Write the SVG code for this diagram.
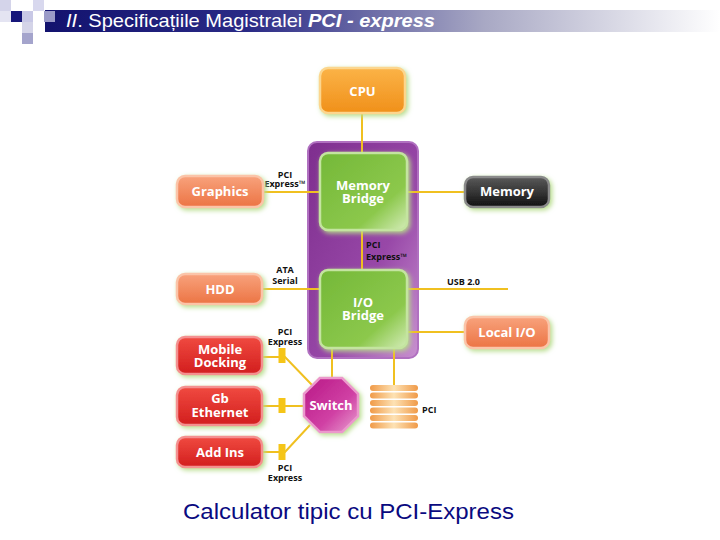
<svg xmlns="http://www.w3.org/2000/svg" width="720" height="540" viewBox="0 0 720 540">
<defs>
<linearGradient id="hdr" x1="0" y1="0" x2="1" y2="0">
<stop offset="0" stop-color="#12126e"/>
<stop offset="0.3" stop-color="#2a2a86"/>
<stop offset="0.65" stop-color="#a8a8c4"/>
<stop offset="1" stop-color="#ffffff"/>
</linearGradient>
<linearGradient id="gOrange" x1="0" y1="0" x2="0" y2="1"><stop offset="0" stop-color="#fbb347"/><stop offset="1" stop-color="#f0901a"/></linearGradient>
<linearGradient id="gSalmon" x1="0" y1="0" x2="0" y2="1"><stop offset="0" stop-color="#f8a27c"/><stop offset="1" stop-color="#ec7444"/></linearGradient>
<linearGradient id="gRed" x1="0" y1="0" x2="0" y2="1"><stop offset="0" stop-color="#f04a40"/><stop offset="1" stop-color="#d21e1e"/></linearGradient>
<linearGradient id="gDark" x1="0" y1="0" x2="0" y2="1"><stop offset="0" stop-color="#5a5a5a"/><stop offset="1" stop-color="#111111"/></linearGradient>
<linearGradient id="gGreen" x1="0" y1="0" x2="1" y2="1"><stop offset="0" stop-color="#74b838"/><stop offset="0.7" stop-color="#8cc84c"/><stop offset="1" stop-color="#d4ecb8"/></linearGradient>
<linearGradient id="gPurple" x1="0" y1="0" x2="1" y2="1"><stop offset="0" stop-color="#7e2e8e"/><stop offset="0.6" stop-color="#9848a8"/><stop offset="1" stop-color="#c890d0"/></linearGradient>
<linearGradient id="gMagenta" x1="0" y1="0" x2="1" y2="1"><stop offset="0" stop-color="#b81886"/><stop offset="0.6" stop-color="#d040a4"/><stop offset="1" stop-color="#e8a0d0"/></linearGradient>
<linearGradient id="gBar" x1="0" y1="0" x2="1" y2="0"><stop offset="0" stop-color="#f09a48"/><stop offset="0.5" stop-color="#fde2b4"/><stop offset="1" stop-color="#f09a48"/></linearGradient>
<filter id="glow" x="-20%" y="-20%" width="150%" height="150%">
<feGaussianBlur in="SourceAlpha" stdDeviation="2.5"/>
<feOffset dx="2" dy="2" result="b"/>
<feFlood flood-color="#b6dc8a"/>
<feComposite in2="b" operator="in"/>
<feMerge><feMergeNode/><feMergeNode in="SourceGraphic"/></feMerge>
</filter>
<style>
.box{stroke-width:2.5;filter:url(#glow)}
.t{font-family:"Open Sans","Noto Sans",sans-serif;font-weight:bold;fill:#ffffff;text-anchor:middle;font-size:13px}
.lbl{font-family:"Open Sans","Noto Sans",sans-serif;font-weight:bold;fill:#111111;font-size:9px}
.c{text-anchor:middle}
.ln{stroke:#f0c020;stroke-width:2;fill:none}
.plug{fill:#f5c518}
</style>
</defs>
<rect width="720" height="540" fill="#ffffff"/>
<g id="header">
<rect x="45" y="10" width="675" height="22" fill="url(#hdr)"/>
<rect x="0" y="0" width="11" height="11" fill="#d4d4ea"/>
<rect x="0" y="11" width="11" height="11" fill="#e4e4f2"/>
<rect x="11" y="11" width="11" height="11" fill="#16167a"/>
<rect x="22" y="11" width="11" height="11" fill="#c8c8e6"/>
<rect x="33" y="0" width="11" height="11" fill="#d8d8ee"/>
<rect x="44" y="11" width="11" height="11" fill="#9a9ac8"/>
<rect x="22" y="22" width="11" height="11" fill="#d4d4e8"/>
<rect x="22" y="33" width="11" height="11" fill="#a4a4cc"/>
<text x="66" y="27" font-family="'Liberation Sans',Arial,sans-serif" font-size="19" fill="#ffffff" textLength="369" lengthAdjust="spacingAndGlyphs"><tspan font-style="italic">II</tspan>. Specificațiile Magistralei <tspan font-style="italic" font-weight="bold">PCI - express</tspan></text>
</g>
<g id="chipset">
<rect x="308" y="142" width="110" height="216" rx="9" fill="url(#gPurple)" stroke="#b070c0" stroke-width="2"/>
</g>
<g id="connectors">
<path class="ln" d="M362 113V153"/>
<path class="ln" d="M362 230V270"/>
<path class="ln" d="M263 192H320"/>
<path class="ln" d="M407 192H465"/>
<path class="ln" d="M262 289H320"/>
<path class="ln" d="M407 289H508"/>
<path class="ln" d="M407 332H465"/>
<path class="ln" d="M332 348V378"/>
<path class="ln" d="M394 348V385"/>
<path class="ln" d="M262 357H285L312 385"/>
<path class="ln" d="M262 406H304"/>
<path class="ln" d="M262 452H285L310 425"/>
<rect class="plug" x="278.5" y="348" width="7" height="15"/>
<rect class="plug" x="278.5" y="398" width="7" height="15"/>
<rect class="plug" x="278.5" y="444" width="7" height="16"/>
<text class="lbl c" x="285" y="178">PCI</text>
<text class="lbl c" x="285" y="187">Express™</text>
<text class="lbl c" x="285" y="273">ATA</text>
<text class="lbl c" x="285" y="284">Serial</text>
<text class="lbl c" x="285" y="335">PCI</text>
<text class="lbl c" x="285" y="345">Express</text>
<text class="lbl c" x="285" y="471">PCI</text>
<text class="lbl c" x="285" y="481">Express</text>
<text class="lbl" x="366" y="248">PCI</text>
<text class="lbl" x="366" y="260">Express™</text>
<text class="lbl" x="447" y="285">USB 2.0</text>
<text class="lbl" x="422" y="413">PCI</text>
</g>
<g id="cpu">
<rect class="box" x="320" y="68" width="85" height="45" rx="8" fill="url(#gOrange)" stroke="#fcd68e"/>
<text class="t" x="362.5" y="96">CPU</text>
</g>
<g id="memory-bridge">
<rect class="box" x="320" y="153" width="87" height="77" rx="8" fill="url(#gGreen)" stroke="#c4e4a0"/>
<text class="t" x="363" y="190">Memory</text>
<text class="t" x="363" y="203">Bridge</text>
</g>
<g id="io-bridge">
<rect class="box" x="320" y="270" width="87" height="78" rx="8" fill="url(#gGreen)" stroke="#c4e4a0"/>
<text class="t" x="363" y="307" font-size="14">I/O</text>
<text class="t" x="363" y="320">Bridge</text>
</g>
<g id="graphics">
<rect class="box" x="177" y="176" width="86" height="31" rx="8" fill="url(#gSalmon)" stroke="#fbc4a8"/>
<text class="t" x="220" y="196" font-size="12.5">Graphics</text>
</g>
<g id="memory">
<rect class="box" x="465" y="177" width="84" height="30" rx="8" fill="url(#gDark)" stroke="#8a8a8a"/>
<text class="t" x="507" y="196" font-size="12.5">Memory</text>
</g>
<g id="hdd">
<rect class="box" x="177" y="274" width="85" height="30" rx="8" fill="url(#gSalmon)" stroke="#fbc4a8"/>
<text class="t" x="220" y="294" font-size="12.5">HDD</text>
</g>
<g id="local-io">
<rect class="box" x="465" y="317" width="84" height="31" rx="8" fill="url(#gSalmon)" stroke="#fbc4a8"/>
<text class="t" x="507" y="337" font-size="12.5">Local I/O</text>
</g>
<g id="mobile-docking">
<rect class="box" x="177" y="337" width="85" height="37" rx="8" fill="url(#gRed)" stroke="#f49090"/>
<text class="t" x="220" y="354" font-size="12.5">Mobile</text>
<text class="t" x="220" y="367" font-size="12.5">Docking</text>
</g>
<g id="gb-ethernet">
<rect class="box" x="177" y="387" width="85" height="38" rx="8" fill="url(#gRed)" stroke="#f49090"/>
<text class="t" x="220" y="403" font-size="12.5">Gb</text>
<text class="t" x="220" y="417" font-size="12.5">Ethernet</text>
</g>
<g id="add-ins">
<rect class="box" x="177" y="437" width="85" height="30" rx="8" fill="url(#gRed)" stroke="#f49090"/>
<text class="t" x="220" y="457" font-size="12.5">Add Ins</text>
</g>
<g id="switch">
<polygon class="box" points="319.8,378 342.2,378 358,393.8 358,416.2 342.2,432 319.8,432 304,416.2 304,393.8" fill="url(#gMagenta)" stroke="#ec98cc" stroke-width="2"/>
<text class="t" x="331" y="410" font-size="12.5">Switch</text>
</g>
<g id="pci-slots">
<rect x="370" y="385" width="48" height="6" rx="3" fill="url(#gBar)"/>
<rect x="370" y="392.5" width="48" height="6" rx="3" fill="url(#gBar)"/>
<rect x="370" y="400" width="48" height="6" rx="3" fill="url(#gBar)"/>
<rect x="370" y="407.5" width="48" height="6" rx="3" fill="url(#gBar)"/>
<rect x="370" y="415" width="48" height="6" rx="3" fill="url(#gBar)"/>
<rect x="370" y="422.5" width="48" height="6" rx="3" fill="url(#gBar)"/>
</g>
<text x="183" y="519" font-family="'Liberation Sans',Arial,sans-serif" font-size="21.5" fill="#0a0a80" textLength="331" lengthAdjust="spacingAndGlyphs">Calculator tipic cu PCI-Express</text>
</svg>
